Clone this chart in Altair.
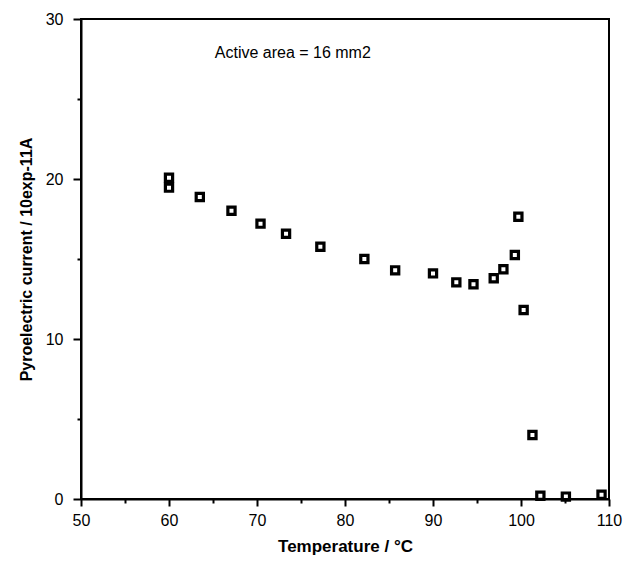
import altair as alt
import pandas as pd

temperature = [60.0, 60.0, 63.5, 67.1, 70.4, 73.3, 77.2, 82.2, 85.7, 90.0,
               92.65, 94.6, 96.9, 98.0, 99.3, 99.7, 100.3, 101.3, 102.2, 105.1, 109.15]
current = [20.08, 19.46, 18.88, 18.02, 17.21, 16.58, 15.77, 15.0, 14.29, 14.1,
           13.54, 13.42, 13.8, 14.36, 15.25, 17.64, 11.81, 4.0, 0.2, 0.15, 0.27]

x_major = [50, 60, 70, 80, 90, 100, 110]
x_minor = [55, 65, 75, 85, 95, 105]
y_major = [0, 10, 20, 30]
y_minor = [5, 15, 25]

note_text = ["Active area = 16 mm2"]
note_x = [65.2]
note_y = [27.9]

df = pd.DataFrame({"t": temperature, "i": current})
notes = pd.DataFrame({"label": note_text, "x": note_x, "y": note_y})

FONT = "Liberation Sans"
x_scale = alt.Scale(domain=[50, 110], nice=False, zero=False)
y_scale = alt.Scale(domain=[0, 30], nice=False)

points = alt.Chart(df).mark_point(
    shape="square", filled=False, stroke="black", strokeWidth=3.2, size=52, opacity=1
).encode(
    x=alt.X(
        "t:Q",
        scale=x_scale,
        axis=alt.Axis(
            title="Temperature / °C",
            orient="bottom",
            values=x_major,
            tickSize=7,
            labelFlush=False,
            labelFontSize=16,
            labelPadding=6,
            titleFontSize=17,
            titleFontWeight="bold",
            titlePadding=10,
            grid=False,
        ),
    ),
    y=alt.Y(
        "i:Q",
        scale=y_scale,
        axis=alt.Axis(
            title="Pyroelectric current / 10exp-11A",
            orient="left",
            values=y_major,
            tickSize=8,
            labelFlush=False,
            labelFontSize=16,
            labelPadding=10,
            titleFontSize=16,
            titleFontWeight="bold",
            titlePadding=11,
            grid=False,
        ),
    ),
)

note = alt.Chart(notes).mark_text(
    align="left", baseline="middle", fontSize=16, font=FONT, color="black"
).encode(
    x=alt.X(
        "x:Q",
        scale=x_scale,
        axis=alt.Axis(
            orient="bottom", values=x_minor, tickSize=4, labels=False,
            title=None, domain=False, grid=False,
        ),
    ),
    y=alt.Y(
        "y:Q",
        scale=y_scale,
        axis=alt.Axis(
            orient="left", values=y_minor, tickSize=4, labels=False,
            title=None, domain=False, grid=False,
        ),
    ),
    text="label:N",
)

chart = (
    alt.layer(points, note)
    .resolve_axis(x="independent", y="independent")
    .properties(
        width=528,
        height=480,
        background="white",
        autosize=alt.AutoSizeParams(type="none"),
        padding={"left": 73, "top": 11, "right": 18, "bottom": 58},
    )
    .configure_view(stroke="black", strokeWidth=2)
    .configure_axis(
        domainColor="black",
        domainWidth=2,
        tickColor="black",
        tickWidth=2,
        labelColor="black",
        titleColor="black",
        labelFont=FONT,
        titleFont=FONT,
    )
)

chart.save("out.html", embed_options={"renderer": "svg", "actions": False})
